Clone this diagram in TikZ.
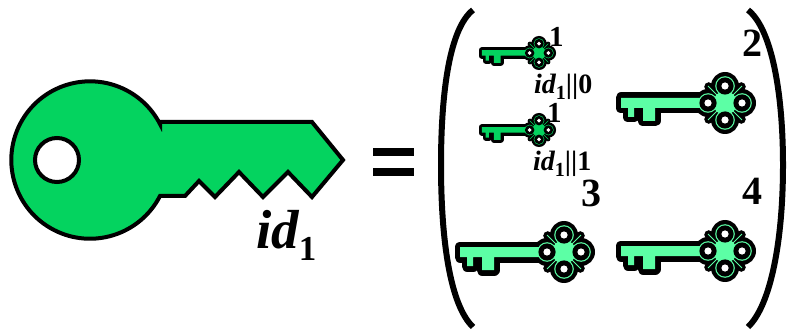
\documentclass[tikz,border=0pt]{standalone}
\usepackage{fontspec}
\setmainfont{Liberation Serif}
\definecolor{keygreen}{HTML}{04D35F}
\definecolor{keylight}{HTML}{5CFFA5}
\newcommand{\idtext}[4]{{\fontsize{#1}{#1}\selectfont\bfseries\itshape id}\raisebox{-#3pt}{\fontsize{#2}{#2}\selectfont\bfseries 1}{\fontsize{#1}{#1}\selectfont\bfseries #4}}
% small key with four lobes: x, y, scale, fill
\newcommand{\lobekey}[4]{%
  \begin{scope}[shift={(#1,#2)},scale=#3]
    % black outline
    \draw[black,line width=#3*11pt,line join=round] (-104,-5) -- (-20,-5) -- (-20,5) -- (-70,5) -- (-70,18) -- (-82,18) -- (-82,5) -- (-91,5) -- (-91,14) -- (-97,14) -- (-97,5) -- (-104,5) -- cycle;
    \foreach \a in {0,90,180,270} {
      \fill[black] (\a:17) circle (14);
      \fill[black] (\a+45:23) circle (4.5);
    }
    % coloured part
    \fill[#4] (-104,-5) -- (-20,-5) -- (-20,5) -- (-70,5) -- (-70,18) -- (-82,18) -- (-82,5) -- (-91,5) -- (-91,14) -- (-97,14) -- (-97,5) -- (-104,5) -- cycle;
    \fill[#4] (0,0) circle (12);
    \foreach \a in {0,90,180,270} {
      \fill[#4] (\a:17) circle (9.8);
      \draw[#4,line width=#3*1pt] (\a+45:11) -- (\a+45:24);
    }
    % holes
    \foreach \a in {0,90,180,270} {
      \fill[black] (\a:17) circle (8.6);
      \fill[white] (\a:17) circle (3.6);
    }
  \end{scope}}
\tikzset{numlabel/.style={anchor=base west,inner sep=0pt,font=\fontsize{40}{40}\selectfont\bfseries},
  tinylabel/.style={anchor=base west,inner sep=0pt,font=\fontsize{29}{29}\selectfont\bfseries}}
\begin{document}
\begin{tikzpicture}[x=1pt,y=-1pt]
  \useasboundingbox (0,0) rectangle (787,331);
  % big key
  \path[fill=keygreen,draw=black,line width=4pt,line join=miter]
    (160,122) -- (312,122) -- (343,160) -- (312,197) -- (288,172) -- (263,197) -- (239,172) -- (215,197) -- (199,181) -- (185,196) -- (160,196)
    arc (27.2:332.8:78.7) -- cycle;
  \filldraw[fill=white,line width=4pt] (57,160) circle (22);
  \node[anchor=base west,inner sep=0pt] (bigid) at (256,248) {\idtext{55}{35}{12}{}};
  % equals sign
  \fill[black] (373,148) rectangle (414,156);
  \fill[black] (373,168) rectangle (414,176);
  % brackets
  \draw[line width=6pt] (473,10) .. controls (450,28) and (441,90) .. (441,165) .. controls (441,240) and (450,305) .. (473,327);
  \draw[line width=6pt] (748,10) .. controls (771,28) and (783,90) .. (783,165) .. controls (783,240) and (771,305) .. (748,327);
  % keys inside
  \lobekey{539}{53}{0.55}{keygreen}
  \lobekey{539}{130}{0.55}{keygreen}
  \lobekey{725}{103}{1}{keylight}
  \lobekey{564}{252}{1}{keylight}
  \lobekey{725}{251}{1}{keylight}
  % labels
  \node[tinylabel] (numa) at (549,47) {1};
  \node[tinylabel] (numb) at (547,123) {1};
  \node[numlabel] (numc) at (742,57) {2};
  \node[numlabel] (numd) at (581,207) {3};
  \node[numlabel] (nume) at (742,205) {4};
  \node[anchor=base west,inner sep=0pt] (ida) at (534,94) {\idtext{28}{20}{6}{||0}};
  \node[anchor=base west,inner sep=0pt] (idb) at (533,171) {\idtext{28}{20}{6}{||1}};
\end{tikzpicture}
\end{document}
